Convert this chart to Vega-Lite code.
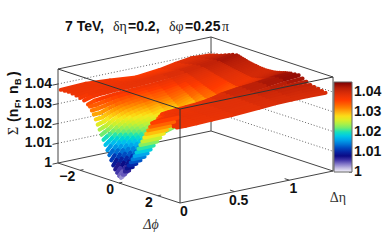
{"$schema":"https://vega.github.io/schema/vega-lite/v6.json","width":382,"height":240,"padding":0,"autosize":{"type":"none"},"background":"white","config":{"view":{"stroke":null}},
"datasets":{
"surface":[
{"p":-3.0,"e":1.36,"z":1.0392},{"p":-3.0,"e":1.2,"z":1.0396},{"p":-3.0,"e":1.05,"z":1.0385},{"p":-3.0,"e":0.9,"z":1.037},{"p":-3.0,"e":0.69,"z":1.0358},{"p":-3.0,"e":0.45,"z":1.037},{"p":-3.0,"e":0.23,"z":1.0379},{"p":-3.0,"e":0,"z":1.0375},
{"p":-2.8,"e":1.36,"z":1.0398},{"p":-2.8,"e":1.2,"z":1.0398},{"p":-2.8,"e":1.05,"z":1.0388},{"p":-2.8,"e":0.9,"z":1.0373},{"p":-2.8,"e":0.69,"z":1.0362},{"p":-2.8,"e":0.45,"z":1.0371},{"p":-2.8,"e":0.23,"z":1.0379},{"p":-2.8,"e":0,"z":1.0377},
{"p":-2.6,"e":1.36,"z":1.0404},{"p":-2.6,"e":1.2,"z":1.0402},{"p":-2.6,"e":1.05,"z":1.0391},{"p":-2.6,"e":0.9,"z":1.0378},{"p":-2.6,"e":0.69,"z":1.0368},{"p":-2.6,"e":0.45,"z":1.0374},{"p":-2.6,"e":0.23,"z":1.0379},{"p":-2.6,"e":0,"z":1.0378},
{"p":-2.4,"e":1.36,"z":1.041},{"p":-2.4,"e":1.2,"z":1.0407},{"p":-2.4,"e":1.05,"z":1.0396},{"p":-2.4,"e":0.9,"z":1.0383},{"p":-2.4,"e":0.69,"z":1.0375},{"p":-2.4,"e":0.45,"z":1.0377},{"p":-2.4,"e":0.23,"z":1.0379},{"p":-2.4,"e":0,"z":1.0376},
{"p":-2.2,"e":1.36,"z":1.0418},{"p":-2.2,"e":1.2,"z":1.041},{"p":-2.2,"e":1.05,"z":1.04},{"p":-2.2,"e":0.9,"z":1.0388},{"p":-2.2,"e":0.69,"z":1.038},{"p":-2.2,"e":0.45,"z":1.038},{"p":-2.2,"e":0.23,"z":1.0379},{"p":-2.2,"e":0,"z":1.0372},
{"p":-2.0,"e":1.36,"z":1.0426},{"p":-2.0,"e":1.2,"z":1.0414},{"p":-2.0,"e":1.05,"z":1.0405},{"p":-2.0,"e":0.9,"z":1.0396},{"p":-2.0,"e":0.75,"z":1.039},{"p":-2.0,"e":0.62,"z":1.0386},{"p":-2.0,"e":0.5,"z":1.0383},{"p":-2.0,"e":0.4,"z":1.0381},{"p":-2.0,"e":0.32,"z":1.038},{"p":-2.0,"e":0.24,"z":1.0379},{"p":-2.0,"e":0.18,"z":1.0378},{"p":-2.0,"e":0.12,"z":1.0377},{"p":-2.0,"e":0.06,"z":1.0374},{"p":-2.0,"e":0,"z":1.0366},
{"p":-1.8,"e":1.36,"z":1.0434},{"p":-1.8,"e":1.2,"z":1.0418},{"p":-1.8,"e":1.05,"z":1.0407},{"p":-1.8,"e":0.9,"z":1.0396},{"p":-1.8,"e":0.75,"z":1.039},{"p":-1.8,"e":0.62,"z":1.0386},{"p":-1.8,"e":0.5,"z":1.0383},{"p":-1.8,"e":0.4,"z":1.0381},{"p":-1.8,"e":0.32,"z":1.038},{"p":-1.8,"e":0.24,"z":1.0378},{"p":-1.8,"e":0.18,"z":1.0376},{"p":-1.8,"e":0.12,"z":1.0374},{"p":-1.8,"e":0.06,"z":1.037},{"p":-1.8,"e":0,"z":1.036},
{"p":-1.6,"e":1.36,"z":1.0438},{"p":-1.6,"e":1.2,"z":1.0418},{"p":-1.6,"e":1.05,"z":1.0405},{"p":-1.6,"e":0.9,"z":1.0392},{"p":-1.6,"e":0.75,"z":1.0384},{"p":-1.6,"e":0.62,"z":1.0378},{"p":-1.6,"e":0.5,"z":1.0375},{"p":-1.6,"e":0.4,"z":1.0372},{"p":-1.6,"e":0.32,"z":1.037},{"p":-1.6,"e":0.24,"z":1.0368},{"p":-1.6,"e":0.18,"z":1.0365},{"p":-1.6,"e":0.12,"z":1.0362},{"p":-1.6,"e":0.06,"z":1.0358},{"p":-1.6,"e":0,"z":1.0346},
{"p":-1.5,"e":1.36,"z":1.0436},{"p":-1.5,"e":1.2,"z":1.0415},{"p":-1.5,"e":1.05,"z":1.0403},{"p":-1.5,"e":0.9,"z":1.0388},{"p":-1.5,"e":0.75,"z":1.0378},{"p":-1.5,"e":0.62,"z":1.0371},{"p":-1.5,"e":0.5,"z":1.0366},{"p":-1.5,"e":0.4,"z":1.0363},{"p":-1.5,"e":0.32,"z":1.036},{"p":-1.5,"e":0.24,"z":1.0357},{"p":-1.5,"e":0.18,"z":1.0353},{"p":-1.5,"e":0.12,"z":1.0347},{"p":-1.5,"e":0.06,"z":1.0341},{"p":-1.5,"e":0,"z":1.0339},
{"p":-1.4,"e":1.36,"z":1.0433},{"p":-1.4,"e":1.2,"z":1.0413},{"p":-1.4,"e":1.05,"z":1.04},{"p":-1.4,"e":0.9,"z":1.0384},{"p":-1.4,"e":0.75,"z":1.0372},{"p":-1.4,"e":0.62,"z":1.0363},{"p":-1.4,"e":0.5,"z":1.0358},{"p":-1.4,"e":0.4,"z":1.0353},{"p":-1.4,"e":0.32,"z":1.035},{"p":-1.4,"e":0.24,"z":1.0346},{"p":-1.4,"e":0.18,"z":1.034},{"p":-1.4,"e":0.12,"z":1.0332},{"p":-1.4,"e":0.06,"z":1.0326},{"p":-1.4,"e":0,"z":1.0322},
{"p":-1.3,"e":1.36,"z":1.043},{"p":-1.3,"e":1.2,"z":1.0411},{"p":-1.3,"e":1.05,"z":1.0397},{"p":-1.3,"e":0.9,"z":1.0381},{"p":-1.3,"e":0.75,"z":1.0366},{"p":-1.3,"e":0.62,"z":1.0355},{"p":-1.3,"e":0.5,"z":1.035},{"p":-1.3,"e":0.4,"z":1.0345},{"p":-1.3,"e":0.32,"z":1.034},{"p":-1.3,"e":0.24,"z":1.0335},{"p":-1.3,"e":0.18,"z":1.0327},{"p":-1.3,"e":0.12,"z":1.0318},{"p":-1.3,"e":0.06,"z":1.0306},{"p":-1.3,"e":0,"z":1.0305},
{"p":-1.2,"e":1.36,"z":1.0428},{"p":-1.2,"e":1.2,"z":1.0409},{"p":-1.2,"e":1.05,"z":1.0394},{"p":-1.2,"e":0.9,"z":1.0377},{"p":-1.2,"e":0.82,"z":1.0368},{"p":-1.2,"e":0.75,"z":1.0359},{"p":-1.2,"e":0.62,"z":1.0347},{"p":-1.2,"e":0.5,"z":1.0341},{"p":-1.2,"e":0.4,"z":1.0335},{"p":-1.2,"e":0.36,"z":1.0333},{"p":-1.2,"e":0.32,"z":1.033},{"p":-1.2,"e":0.28,"z":1.0327},{"p":-1.2,"e":0.24,"z":1.0323},{"p":-1.2,"e":0.21,"z":1.0319},{"p":-1.2,"e":0.18,"z":1.0314},{"p":-1.2,"e":0.15,"z":1.0308},{"p":-1.2,"e":0.12,"z":1.0302},{"p":-1.2,"e":0.09,"z":1.0295},{"p":-1.2,"e":0.06,"z":1.0287},{"p":-1.2,"e":0.03,"z":1.0285},{"p":-1.2,"e":0,"z":1.0283},
{"p":-1.1,"e":1.36,"z":1.0425},{"p":-1.1,"e":1.2,"z":1.0408},{"p":-1.1,"e":1.05,"z":1.0392},{"p":-1.1,"e":0.9,"z":1.0373},{"p":-1.1,"e":0.82,"z":1.0364},{"p":-1.1,"e":0.75,"z":1.0354},{"p":-1.1,"e":0.62,"z":1.034},{"p":-1.1,"e":0.5,"z":1.0333},{"p":-1.1,"e":0.4,"z":1.0327},{"p":-1.1,"e":0.36,"z":1.0324},{"p":-1.1,"e":0.32,"z":1.0321},{"p":-1.1,"e":0.28,"z":1.0317},{"p":-1.1,"e":0.24,"z":1.0313},{"p":-1.1,"e":0.21,"z":1.0308},{"p":-1.1,"e":0.18,"z":1.0302},{"p":-1.1,"e":0.15,"z":1.0295},{"p":-1.1,"e":0.12,"z":1.0288},{"p":-1.1,"e":0.09,"z":1.0279},{"p":-1.1,"e":0.06,"z":1.027},{"p":-1.1,"e":0.03,"z":1.0265},{"p":-1.1,"e":0,"z":1.026},
{"p":-1.0,"e":1.36,"z":1.0422},{"p":-1.0,"e":1.2,"z":1.0405},{"p":-1.0,"e":1.05,"z":1.0388},{"p":-1.0,"e":0.9,"z":1.0369},{"p":-1.0,"e":0.82,"z":1.0358},{"p":-1.0,"e":0.75,"z":1.0347},{"p":-1.0,"e":0.62,"z":1.0331},{"p":-1.0,"e":0.5,"z":1.0324},{"p":-1.0,"e":0.4,"z":1.0317},{"p":-1.0,"e":0.36,"z":1.0314},{"p":-1.0,"e":0.32,"z":1.031},{"p":-1.0,"e":0.28,"z":1.0306},{"p":-1.0,"e":0.24,"z":1.0301},{"p":-1.0,"e":0.21,"z":1.0295},{"p":-1.0,"e":0.18,"z":1.0288},{"p":-1.0,"e":0.15,"z":1.028},{"p":-1.0,"e":0.12,"z":1.0272},{"p":-1.0,"e":0.09,"z":1.0262},{"p":-1.0,"e":0.06,"z":1.0251},{"p":-1.0,"e":0.03,"z":1.0245},{"p":-1.0,"e":0,"z":1.0238},
{"p":-0.9,"e":1.36,"z":1.042},{"p":-0.9,"e":1.2,"z":1.0403},{"p":-0.9,"e":1.05,"z":1.0386},{"p":-0.9,"e":0.9,"z":1.0365},{"p":-0.9,"e":0.82,"z":1.0353},{"p":-0.9,"e":0.75,"z":1.0341},{"p":-0.9,"e":0.62,"z":1.0324},{"p":-0.9,"e":0.5,"z":1.0316},{"p":-0.9,"e":0.4,"z":1.0308},{"p":-0.9,"e":0.36,"z":1.0304},{"p":-0.9,"e":0.32,"z":1.03},{"p":-0.9,"e":0.28,"z":1.0295},{"p":-0.9,"e":0.24,"z":1.029},{"p":-0.9,"e":0.21,"z":1.0283},{"p":-0.9,"e":0.18,"z":1.0276},{"p":-0.9,"e":0.15,"z":1.0267},{"p":-0.9,"e":0.12,"z":1.0257},{"p":-0.9,"e":0.09,"z":1.0246},{"p":-0.9,"e":0.06,"z":1.0234},{"p":-0.9,"e":0.03,"z":1.0225},{"p":-0.9,"e":0,"z":1.0215},
{"p":-0.8,"e":1.36,"z":1.0418},{"p":-0.8,"e":1.2,"z":1.0401},{"p":-0.8,"e":1.05,"z":1.0384},{"p":-0.8,"e":0.9,"z":1.0361},{"p":-0.8,"e":0.82,"z":1.0348},{"p":-0.8,"e":0.75,"z":1.0335},{"p":-0.8,"e":0.62,"z":1.0316},{"p":-0.8,"e":0.5,"z":1.0308},{"p":-0.8,"e":0.4,"z":1.0298},{"p":-0.8,"e":0.36,"z":1.0294},{"p":-0.8,"e":0.32,"z":1.029},{"p":-0.8,"e":0.28,"z":1.0285},{"p":-0.8,"e":0.24,"z":1.0279},{"p":-0.8,"e":0.21,"z":1.0271},{"p":-0.8,"e":0.18,"z":1.0263},{"p":-0.8,"e":0.15,"z":1.0253},{"p":-0.8,"e":0.12,"z":1.0242},{"p":-0.8,"e":0.09,"z":1.0229},{"p":-0.8,"e":0.06,"z":1.0216},{"p":-0.8,"e":0.03,"z":1.0205},{"p":-0.8,"e":0,"z":1.0193},
{"p":-0.7,"e":1.36,"z":1.0416},{"p":-0.7,"e":1.2,"z":1.04},{"p":-0.7,"e":1.05,"z":1.0381},{"p":-0.7,"e":0.9,"z":1.0357},{"p":-0.7,"e":0.82,"z":1.0343},{"p":-0.7,"e":0.75,"z":1.0329},{"p":-0.7,"e":0.62,"z":1.0308},{"p":-0.7,"e":0.5,"z":1.03},{"p":-0.7,"e":0.4,"z":1.0289},{"p":-0.7,"e":0.36,"z":1.0285},{"p":-0.7,"e":0.32,"z":1.028},{"p":-0.7,"e":0.28,"z":1.0274},{"p":-0.7,"e":0.24,"z":1.0268},{"p":-0.7,"e":0.21,"z":1.0259},{"p":-0.7,"e":0.18,"z":1.025},{"p":-0.7,"e":0.15,"z":1.0239},{"p":-0.7,"e":0.12,"z":1.0227},{"p":-0.7,"e":0.09,"z":1.0213},{"p":-0.7,"e":0.06,"z":1.0198},{"p":-0.7,"e":0.03,"z":1.0184},{"p":-0.7,"e":0,"z":1.017},
{"p":-0.6,"e":1.36,"z":1.0415},{"p":-0.6,"e":1.2,"z":1.0398},{"p":-0.6,"e":1.05,"z":1.0379},{"p":-0.6,"e":0.9,"z":1.0353},{"p":-0.6,"e":0.82,"z":1.0338},{"p":-0.6,"e":0.75,"z":1.0323},{"p":-0.6,"e":0.62,"z":1.0301},{"p":-0.6,"e":0.5,"z":1.0291},{"p":-0.6,"e":0.4,"z":1.028},{"p":-0.6,"e":0.36,"z":1.0275},{"p":-0.6,"e":0.32,"z":1.027},{"p":-0.6,"e":0.28,"z":1.0264},{"p":-0.6,"e":0.24,"z":1.0257},{"p":-0.6,"e":0.21,"z":1.0248},{"p":-0.6,"e":0.18,"z":1.0238},{"p":-0.6,"e":0.15,"z":1.0225},{"p":-0.6,"e":0.12,"z":1.0212},{"p":-0.6,"e":0.09,"z":1.0197},{"p":-0.6,"e":0.06,"z":1.0181},{"p":-0.6,"e":0.03,"z":1.0164},{"p":-0.6,"e":0,"z":1.0147},
{"p":-0.5,"e":1.36,"z":1.0413},{"p":-0.5,"e":1.2,"z":1.0396},{"p":-0.5,"e":1.05,"z":1.0376},{"p":-0.5,"e":0.9,"z":1.0349},{"p":-0.5,"e":0.82,"z":1.0333},{"p":-0.5,"e":0.75,"z":1.0317},{"p":-0.5,"e":0.62,"z":1.0293},{"p":-0.5,"e":0.5,"z":1.0283},{"p":-0.5,"e":0.4,"z":1.0271},{"p":-0.5,"e":0.36,"z":1.0266},{"p":-0.5,"e":0.32,"z":1.026},{"p":-0.5,"e":0.28,"z":1.0253},{"p":-0.5,"e":0.24,"z":1.0246},{"p":-0.5,"e":0.21,"z":1.0236},{"p":-0.5,"e":0.18,"z":1.0225},{"p":-0.5,"e":0.15,"z":1.0211},{"p":-0.5,"e":0.12,"z":1.0197},{"p":-0.5,"e":0.09,"z":1.018},{"p":-0.5,"e":0.06,"z":1.0163},{"p":-0.5,"e":0.03,"z":1.0144},{"p":-0.5,"e":0,"z":1.0125},
{"p":-0.4,"e":1.36,"z":1.0412},{"p":-0.4,"e":1.2,"z":1.0395},{"p":-0.4,"e":1.05,"z":1.0374},{"p":-0.4,"e":0.9,"z":1.0346},{"p":-0.4,"e":0.82,"z":1.0329},{"p":-0.4,"e":0.75,"z":1.0311},{"p":-0.4,"e":0.62,"z":1.0285},{"p":-0.4,"e":0.5,"z":1.0275},{"p":-0.4,"e":0.4,"z":1.0262},{"p":-0.4,"e":0.36,"z":1.0256},{"p":-0.4,"e":0.32,"z":1.025},{"p":-0.4,"e":0.28,"z":1.0243},{"p":-0.4,"e":0.24,"z":1.0235},{"p":-0.4,"e":0.21,"z":1.0224},{"p":-0.4,"e":0.18,"z":1.0212},{"p":-0.4,"e":0.15,"z":1.0198},{"p":-0.4,"e":0.12,"z":1.0183},{"p":-0.4,"e":0.09,"z":1.0165},{"p":-0.4,"e":0.06,"z":1.0146},{"p":-0.4,"e":0.03,"z":1.0124},{"p":-0.4,"e":0,"z":1.0102},
{"p":-0.3,"e":1.36,"z":1.0411},{"p":-0.3,"e":1.2,"z":1.0393},{"p":-0.3,"e":1.05,"z":1.0371},{"p":-0.3,"e":0.9,"z":1.0342},{"p":-0.3,"e":0.82,"z":1.0323},{"p":-0.3,"e":0.75,"z":1.0304},{"p":-0.3,"e":0.62,"z":1.0277},{"p":-0.3,"e":0.5,"z":1.0266},{"p":-0.3,"e":0.4,"z":1.0253},{"p":-0.3,"e":0.36,"z":1.0247},{"p":-0.3,"e":0.32,"z":1.024},{"p":-0.3,"e":0.28,"z":1.0232},{"p":-0.3,"e":0.24,"z":1.0223},{"p":-0.3,"e":0.21,"z":1.0211},{"p":-0.3,"e":0.18,"z":1.0199},{"p":-0.3,"e":0.15,"z":1.0183},{"p":-0.3,"e":0.12,"z":1.0167},{"p":-0.3,"e":0.09,"z":1.0147},{"p":-0.3,"e":0.06,"z":1.0127},{"p":-0.3,"e":0.03,"z":1.0103},{"p":-0.3,"e":0,"z":1.0079},
{"p":-0.2,"e":1.36,"z":1.041},{"p":-0.2,"e":1.2,"z":1.0391},{"p":-0.2,"e":1.05,"z":1.0369},{"p":-0.2,"e":0.9,"z":1.0338},{"p":-0.2,"e":0.82,"z":1.0319},{"p":-0.2,"e":0.75,"z":1.0299},{"p":-0.2,"e":0.62,"z":1.027},{"p":-0.2,"e":0.5,"z":1.0258},{"p":-0.2,"e":0.4,"z":1.0244},{"p":-0.2,"e":0.36,"z":1.0238},{"p":-0.2,"e":0.32,"z":1.0231},{"p":-0.2,"e":0.28,"z":1.0222},{"p":-0.2,"e":0.24,"z":1.0213},{"p":-0.2,"e":0.21,"z":1.02},{"p":-0.2,"e":0.18,"z":1.0187},{"p":-0.2,"e":0.15,"z":1.017},{"p":-0.2,"e":0.12,"z":1.0153},{"p":-0.2,"e":0.09,"z":1.0132},{"p":-0.2,"e":0.06,"z":1.011},{"p":-0.2,"e":0.03,"z":1.0086},{"p":-0.2,"e":0,"z":1.0062},
{"p":-0.1,"e":1.36,"z":1.041},{"p":-0.1,"e":1.2,"z":1.039},{"p":-0.1,"e":1.05,"z":1.0366},{"p":-0.1,"e":0.9,"z":1.0334},{"p":-0.1,"e":0.82,"z":1.0313},{"p":-0.1,"e":0.75,"z":1.0292},{"p":-0.1,"e":0.62,"z":1.0262},{"p":-0.1,"e":0.5,"z":1.025},{"p":-0.1,"e":0.4,"z":1.0234},{"p":-0.1,"e":0.36,"z":1.0227},{"p":-0.1,"e":0.32,"z":1.022},{"p":-0.1,"e":0.28,"z":1.0211},{"p":-0.1,"e":0.24,"z":1.0201},{"p":-0.1,"e":0.21,"z":1.0188},{"p":-0.1,"e":0.18,"z":1.0174},{"p":-0.1,"e":0.15,"z":1.0156},{"p":-0.1,"e":0.12,"z":1.0137},{"p":-0.1,"e":0.09,"z":1.0115},{"p":-0.1,"e":0.06,"z":1.0092},{"p":-0.1,"e":0.03,"z":1.007},{"p":-0.1,"e":0,"z":1.0048},
{"p":0,"e":1.36,"z":1.041},{"p":0,"e":1.2,"z":1.0389},{"p":0,"e":1.05,"z":1.0364},{"p":0,"e":0.9,"z":1.033},{"p":0,"e":0.82,"z":1.0308},{"p":0,"e":0.75,"z":1.0286},{"p":0,"e":0.62,"z":1.0254},{"p":0,"e":0.5,"z":1.0241},{"p":0,"e":0.4,"z":1.0225},{"p":0,"e":0.36,"z":1.0218},{"p":0,"e":0.32,"z":1.021},{"p":0,"e":0.28,"z":1.02},{"p":0,"e":0.24,"z":1.019},{"p":0,"e":0.21,"z":1.0176},{"p":0,"e":0.18,"z":1.0161},{"p":0,"e":0.15,"z":1.0142},{"p":0,"e":0.12,"z":1.0122},{"p":0,"e":0.09,"z":1.0098},{"p":0,"e":0.06,"z":1.0074},{"p":0,"e":0.03,"z":1.0055},{"p":0,"e":0,"z":1.0036},
{"p":0.1,"e":1.36,"z":1.0411},{"p":0.1,"e":1.2,"z":1.0388},{"p":0.1,"e":1.05,"z":1.0362},{"p":0.1,"e":0.9,"z":1.0326},{"p":0.1,"e":0.82,"z":1.0303},{"p":0.1,"e":0.75,"z":1.028},{"p":0.1,"e":0.62,"z":1.0246},{"p":0.1,"e":0.5,"z":1.0233},{"p":0.1,"e":0.4,"z":1.0216},{"p":0.1,"e":0.36,"z":1.0208},{"p":0.1,"e":0.32,"z":1.02},{"p":0.1,"e":0.28,"z":1.019},{"p":0.1,"e":0.24,"z":1.0179},{"p":0.1,"e":0.21,"z":1.0164},{"p":0.1,"e":0.18,"z":1.0148},{"p":0.1,"e":0.15,"z":1.0128},{"p":0.1,"e":0.12,"z":1.0107},{"p":0.1,"e":0.09,"z":1.0082},{"p":0.1,"e":0.06,"z":1.0056},{"p":0.1,"e":0.03,"z":1.0043},{"p":0.1,"e":0,"z":1.003},
{"p":0.2,"e":1.36,"z":1.0412},{"p":0.2,"e":1.2,"z":1.0391},{"p":0.2,"e":1.05,"z":1.0366},{"p":0.2,"e":0.9,"z":1.0332},{"p":0.2,"e":0.75,"z":1.029},{"p":0.2,"e":0.62,"z":1.0259},{"p":0.2,"e":0.5,"z":1.0246},{"p":0.2,"e":0.4,"z":1.0231},{"p":0.2,"e":0.32,"z":1.0216},{"p":0.2,"e":0.24,"z":1.0197},{"p":0.2,"e":0.18,"z":1.0169},
{"p":0.3,"e":1.36,"z":1.0413},{"p":0.3,"e":1.2,"z":1.0393},{"p":0.3,"e":1.05,"z":1.037},{"p":0.3,"e":0.9,"z":1.0338},{"p":0.3,"e":0.75,"z":1.03},{"p":0.3,"e":0.62,"z":1.0272},{"p":0.3,"e":0.5,"z":1.026},{"p":0.3,"e":0.4,"z":1.0246},{"p":0.3,"e":0.32,"z":1.0232},{"p":0.3,"e":0.24,"z":1.0215},{"p":0.3,"e":0.18,"z":1.019},
{"p":0.4,"e":1.36,"z":1.0415},{"p":0.4,"e":1.2,"z":1.0395},{"p":0.4,"e":1.05,"z":1.0374},{"p":0.4,"e":0.9,"z":1.0345},{"p":0.4,"e":0.75,"z":1.031},{"p":0.4,"e":0.62,"z":1.0284},{"p":0.4,"e":0.5,"z":1.0273},{"p":0.4,"e":0.4,"z":1.0261},{"p":0.4,"e":0.32,"z":1.0249},{"p":0.4,"e":0.24,"z":1.0233},{"p":0.4,"e":0.18,"z":1.021},
{"p":0.5,"e":1.36,"z":1.0417},{"p":0.5,"e":1.2,"z":1.0398},{"p":0.5,"e":1.05,"z":1.0378},{"p":0.5,"e":0.9,"z":1.0351},{"p":0.5,"e":0.75,"z":1.032},{"p":0.5,"e":0.62,"z":1.0296},{"p":0.5,"e":0.5,"z":1.0286},{"p":0.5,"e":0.4,"z":1.0275},{"p":0.5,"e":0.32,"z":1.0265},{"p":0.5,"e":0.24,"z":1.0251},{"p":0.5,"e":0.18,"z":1.023},
{"p":0.6,"e":1.36,"z":1.042},{"p":0.6,"e":1.2,"z":1.0401},{"p":0.6,"e":1.05,"z":1.0382},{"p":0.6,"e":0.9,"z":1.0357},{"p":0.6,"e":0.75,"z":1.033},{"p":0.6,"e":0.62,"z":1.0309},{"p":0.6,"e":0.5,"z":1.03},{"p":0.6,"e":0.4,"z":1.029},{"p":0.6,"e":0.32,"z":1.0281},{"p":0.6,"e":0.24,"z":1.0269},{"p":0.6,"e":0.18,"z":1.0251},
{"p":0.7,"e":1.36,"z":1.0422},{"p":0.7,"e":1.2,"z":1.0404},{"p":0.7,"e":1.05,"z":1.0386},{"p":0.7,"e":0.9,"z":1.0368},{"p":0.7,"e":0.75,"z":1.034},{"p":0.7,"e":0.62,"z":1.0322},{"p":0.7,"e":0.5,"z":1.0314},{"p":0.7,"e":0.4,"z":1.0306},{"p":0.7,"e":0.32,"z":1.0298},{"p":0.7,"e":0.24,"z":1.0288},{"p":0.7,"e":0.18,"z":1.0273},
{"p":0.8,"e":1.36,"z":1.0425},{"p":0.8,"e":1.2,"z":1.0407},{"p":0.8,"e":1.05,"z":1.0391},{"p":0.8,"e":0.9,"z":1.0381},{"p":0.8,"e":0.75,"z":1.035},{"p":0.8,"e":0.62,"z":1.0336},{"p":0.8,"e":0.5,"z":1.0329},{"p":0.8,"e":0.4,"z":1.0322},{"p":0.8,"e":0.32,"z":1.0315},{"p":0.8,"e":0.24,"z":1.0307},{"p":0.8,"e":0.18,"z":1.0295},
{"p":0.9,"e":1.36,"z":1.0428},{"p":0.9,"e":1.2,"z":1.0413},{"p":0.9,"e":1.05,"z":1.04},{"p":0.9,"e":0.9,"z":1.0393},{"p":0.9,"e":0.75,"z":1.0372},{"p":0.9,"e":0.62,"z":1.0355},{"p":0.9,"e":0.5,"z":1.0345},{"p":0.9,"e":0.4,"z":1.0338},{"p":0.9,"e":0.32,"z":1.0332},{"p":0.9,"e":0.24,"z":1.0325},{"p":0.9,"e":0.18,"z":1.0316},
{"p":1.0,"e":1.36,"z":1.043},{"p":1.0,"e":1.2,"z":1.042},{"p":1.0,"e":1.05,"z":1.041},{"p":1.0,"e":0.9,"z":1.0403},{"p":1.0,"e":0.75,"z":1.0392},{"p":1.0,"e":0.62,"z":1.0372},{"p":1.0,"e":0.5,"z":1.036},{"p":1.0,"e":0.4,"z":1.0354},{"p":1.0,"e":0.32,"z":1.035},{"p":1.0,"e":0.24,"z":1.0344},{"p":1.0,"e":0.18,"z":1.0338},
{"p":1.1,"e":1.36,"z":1.0432},{"p":1.1,"e":1.2,"z":1.0425},{"p":1.1,"e":1.05,"z":1.0415},{"p":1.1,"e":0.9,"z":1.0408},{"p":1.1,"e":0.75,"z":1.0397},{"p":1.1,"e":0.62,"z":1.0381},{"p":1.1,"e":0.5,"z":1.037},{"p":1.1,"e":0.4,"z":1.0365},{"p":1.1,"e":0.32,"z":1.0362},{"p":1.1,"e":0.24,"z":1.0357},{"p":1.1,"e":0.18,"z":1.0352},
{"p":1.2,"e":1.36,"z":1.0435},{"p":1.2,"e":1.2,"z":1.043},{"p":1.2,"e":1.05,"z":1.042},{"p":1.2,"e":0.9,"z":1.0413},{"p":1.2,"e":0.75,"z":1.04},{"p":1.2,"e":0.62,"z":1.0388},{"p":1.2,"e":0.5,"z":1.038},{"p":1.2,"e":0.4,"z":1.0376},{"p":1.2,"e":0.32,"z":1.0373},{"p":1.2,"e":0.24,"z":1.037},{"p":1.2,"e":0.18,"z":1.0366},
{"p":1.4,"e":1.36,"z":1.0438},{"p":1.4,"e":1.2,"z":1.0432},{"p":1.4,"e":1.05,"z":1.0422},{"p":1.4,"e":0.9,"z":1.0412},{"p":1.4,"e":0.75,"z":1.04},{"p":1.4,"e":0.62,"z":1.039},{"p":1.4,"e":0.5,"z":1.0382},{"p":1.4,"e":0.4,"z":1.038},{"p":1.4,"e":0.32,"z":1.0378},{"p":1.4,"e":0.24,"z":1.0376},{"p":1.4,"e":0.18,"z":1.0374},
{"p":1.6,"e":1.36,"z":1.044},{"p":1.6,"e":1.2,"z":1.0432},{"p":1.6,"e":1.05,"z":1.0422},{"p":1.6,"e":0.9,"z":1.041},{"p":1.6,"e":0.75,"z":1.0398},{"p":1.6,"e":0.62,"z":1.039},{"p":1.6,"e":0.5,"z":1.0383},{"p":1.6,"e":0.4,"z":1.0381},{"p":1.6,"e":0.32,"z":1.038},{"p":1.6,"e":0.24,"z":1.0378},{"p":1.6,"e":0.18,"z":1.0376},
{"p":1.8,"e":1.36,"z":1.043},{"p":1.8,"e":1.2,"z":1.0425},{"p":1.8,"e":1.05,"z":1.0415},{"p":1.8,"e":0.9,"z":1.0405},{"p":1.8,"e":0.75,"z":1.0396},{"p":1.8,"e":0.5,"z":1.0385},{"p":1.8,"e":0.32,"z":1.0382},{"p":1.8,"e":0.18,"z":1.0378},{"p":1.8,"e":0.08,"z":1.0374},{"p":1.8,"e":0,"z":1.0365},
{"p":2.0,"e":1.36,"z":1.042},{"p":2.0,"e":1.2,"z":1.0418},{"p":2.0,"e":1.05,"z":1.041},{"p":2.0,"e":0.9,"z":1.0403},{"p":2.0,"e":0.75,"z":1.0395},{"p":2.0,"e":0.5,"z":1.0385},{"p":2.0,"e":0.32,"z":1.0382},{"p":2.0,"e":0.18,"z":1.038},{"p":2.0,"e":0.08,"z":1.0378},{"p":2.0,"e":0,"z":1.0375},
{"p":2.2,"e":1.36,"z":1.041},{"p":2.2,"e":1.2,"z":1.0412},{"p":2.2,"e":1.05,"z":1.0406},{"p":2.2,"e":0.9,"z":1.04},{"p":2.2,"e":0.75,"z":1.0394},{"p":2.2,"e":0.5,"z":1.0385},{"p":2.2,"e":0.32,"z":1.0383},{"p":2.2,"e":0.18,"z":1.0382},{"p":2.2,"e":0.08,"z":1.0382},{"p":2.2,"e":0,"z":1.0382},
{"p":2.4,"e":1.36,"z":1.0406},{"p":2.4,"e":1.2,"z":1.0408},{"p":2.4,"e":1.05,"z":1.0404},{"p":2.4,"e":0.9,"z":1.0399},{"p":2.4,"e":0.75,"z":1.0393},{"p":2.4,"e":0.5,"z":1.0385},{"p":2.4,"e":0.32,"z":1.0383},{"p":2.4,"e":0.18,"z":1.0382},{"p":2.4,"e":0.08,"z":1.0381},{"p":2.4,"e":0,"z":1.0381},
{"p":2.6,"e":1.36,"z":1.0403},{"p":2.6,"e":1.2,"z":1.0404},{"p":2.6,"e":1.05,"z":1.04},{"p":2.6,"e":0.9,"z":1.0397},{"p":2.6,"e":0.75,"z":1.0392},{"p":2.6,"e":0.5,"z":1.0384},{"p":2.6,"e":0.32,"z":1.0382},{"p":2.6,"e":0.18,"z":1.038},{"p":2.6,"e":0.08,"z":1.0379},{"p":2.6,"e":0,"z":1.0379},
{"p":2.8,"e":1.36,"z":1.0399},{"p":2.8,"e":1.2,"z":1.04},{"p":2.8,"e":1.05,"z":1.0398},{"p":2.8,"e":0.9,"z":1.0396},{"p":2.8,"e":0.75,"z":1.0391},{"p":2.8,"e":0.5,"z":1.0383},{"p":2.8,"e":0.32,"z":1.0381},{"p":2.8,"e":0.18,"z":1.0379},{"p":2.8,"e":0.08,"z":1.0378},{"p":2.8,"e":0,"z":1.0377},
{"p":2.98,"e":1.36,"z":1.0395},{"p":2.98,"e":1.2,"z":1.0397},{"p":2.98,"e":1.05,"z":1.0397},{"p":2.98,"e":0.9,"z":1.0396},{"p":2.98,"e":0.75,"z":1.039},{"p":2.98,"e":0.5,"z":1.0382},{"p":2.98,"e":0.32,"z":1.038},{"p":2.98,"e":0.18,"z":1.0378},{"p":2.98,"e":0.08,"z":1.0377},{"p":2.98,"e":0,"z":1.0377}
],
"arm":[
{"p":0.12,"e":0.01,"z":1.0033},{"p":0.12,"e":0,"z":1.0033},{"p":0.2,"e":0.02,"z":1.0048},{"p":0.2,"e":0,"z":1.0048},{"p":0.3,"e":0.04,"z":1.0068},{"p":0.3,"e":0,"z":1.0068},{"p":0.4,"e":0.055,"z":1.0087},{"p":0.4,"e":0,"z":1.0087},{"p":0.5,"e":0.07,"z":1.0105},{"p":0.5,"e":0,"z":1.0105},{"p":0.6,"e":0.09,"z":1.0124},{"p":0.6,"e":0,"z":1.0124},{"p":0.7,"e":0.11,"z":1.0143},{"p":0.7,"e":0,"z":1.0143},{"p":0.8,"e":0.12,"z":1.0162},{"p":0.8,"e":0,"z":1.0162},{"p":0.9,"e":0.13,"z":1.0184},{"p":0.9,"e":0,"z":1.0184},{"p":1.0,"e":0.14,"z":1.0206},{"p":1.0,"e":0,"z":1.0206},{"p":1.1,"e":0.155,"z":1.0228},{"p":1.1,"e":0,"z":1.0228},{"p":1.2,"e":0.165,"z":1.0249},{"p":1.2,"e":0,"z":1.0249},{"p":1.3,"e":0.18,"z":1.0272},{"p":1.3,"e":0,"z":1.0272},{"p":1.4,"e":0.19,"z":1.0293},{"p":1.4,"e":0,"z":1.0293},{"p":1.5,"e":0.2,"z":1.0315},{"p":1.5,"e":0,"z":1.0315},{"p":1.6,"e":0.22,"z":1.0336},{"p":1.6,"e":0,"z":1.0336},{"p":1.7,"e":0.24,"z":1.0358},{"p":1.7,"e":0,"z":1.0358}
],
"box":[
{"p":-3.1416,"e":0,"z":1,"p2":-3.1416,"e2":1.4,"z2":1},{"p":-3.1416,"e":1.4,"z":1,"p2":3.1416,"e2":1.4,"z2":1},{"p":-3.1416,"e":0,"z":1,"p2":-3.1416,"e2":0,"z2":1.0476},{"p":-3.1416,"e":1.4,"z":1,"p2":-3.1416,"e2":1.4,"z2":1.0476},{"p":3.1416,"e":1.4,"z":1,"p2":3.1416,"e2":1.4,"z2":1.0476},{"p":-3.1416,"e":0,"z":1.0476,"p2":-3.1416,"e2":1.4,"z2":1.0476},{"p":-3.1416,"e":1.4,"z":1.0476,"p2":3.1416,"e2":1.4,"z2":1.0476},{"p":-3.1416,"e":0,"z":1,"p2":3.1416,"e2":0,"z2":1},{"p":3.1416,"e":0,"z":1,"p2":3.1416,"e2":1.4,"z2":1},
{"p":-3.1416,"e":0,"z":1.01,"p2":-3.1416,"e2":-0.05,"z2":1.01},{"p":-3.1416,"e":0,"z":1.02,"p2":-3.1416,"e2":-0.05,"z2":1.02},{"p":-3.1416,"e":0,"z":1.03,"p2":-3.1416,"e2":-0.05,"z2":1.03},{"p":-3.1416,"e":0,"z":1.04,"p2":-3.1416,"e2":-0.05,"z2":1.04},{"p":-3.1416,"e":0,"z":1,"p2":-3.1416,"e2":-0.05,"z2":1},
{"p":-2,"e":0,"z":1,"p2":-2,"e2":0.03,"z2":1},{"p":0,"e":0,"z":1,"p2":0,"e2":0.03,"z2":1},{"p":2,"e":0,"z":1,"p2":2,"e2":0.03,"z2":1},{"p":3.1416,"e":0.5,"z":1,"p2":2.9,"e2":0.5,"z2":1},{"p":3.1416,"e":1,"z":1,"p2":2.9,"e2":1,"z2":1}
],
"grid":[
{"p":-3.1416,"e":0,"z":1.01,"p2":-3.1416,"e2":1.4,"z2":1.01},{"p":-3.1416,"e":1.4,"z":1.01,"p2":3.1416,"e2":1.4,"z2":1.01},{"p":-3.1416,"e":0,"z":1.02,"p2":-3.1416,"e2":1.4,"z2":1.02},{"p":-3.1416,"e":1.4,"z":1.02,"p2":3.1416,"e2":1.4,"z2":1.02},{"p":-3.1416,"e":0,"z":1.03,"p2":-3.1416,"e2":1.4,"z2":1.03},{"p":-3.1416,"e":1.4,"z":1.03,"p2":3.1416,"e2":1.4,"z2":1.03},{"p":-3.1416,"e":0,"z":1.04,"p2":-3.1416,"e2":1.4,"z2":1.04},{"p":-3.1416,"e":1.4,"z":1.04,"p2":3.1416,"e2":1.4,"z2":1.04}
],
"front":[
{"p":-3.1416,"e":0,"z":1.0476,"p2":3.1416,"e2":0,"z2":1.0476},{"p":3.1416,"e":0,"z":1.0476,"p2":3.1416,"e2":1.4,"z2":1.0476},{"p":3.1416,"e":0,"z":1,"p2":3.1416,"e2":0,"z2":1.0476}
]
},
"layer":[
{"data":{"name":"grid"},"transform":[{"calculate":"58+(datum.p+3.1416)*19.42+datum.e*109.3","as":"sx"},{"calculate":"163+(datum.p+3.1416)*6.37-datum.e*22.86-(datum.z-1)*1975","as":"sy"},{"calculate":"58+(datum.p2+3.1416)*19.42+datum.e2*109.3","as":"sx2"},{"calculate":"163+(datum.p2+3.1416)*6.37-datum.e2*22.86-(datum.z2-1)*1975","as":"sy2"}],
"mark":{"type":"rule","color":"#666","strokeWidth":1,"strokeDash":[1,2]},
"encoding":{"x":{"field":"sx","type":"quantitative","scale":{"domain":[0,382],"nice":false,"zero":false},"axis":null},"y":{"field":"sy","type":"quantitative","scale":{"domain":[0,240],"reverse":true,"nice":false,"zero":false},"axis":null},"x2":{"field":"sx2"},"y2":{"field":"sy2"}}},
{"data":{"name":"box"},"transform":[{"calculate":"58+(datum.p+3.1416)*19.42+datum.e*109.3","as":"sx"},{"calculate":"163+(datum.p+3.1416)*6.37-datum.e*22.86-(datum.z-1)*1975","as":"sy"},{"calculate":"58+(datum.p2+3.1416)*19.42+datum.e2*109.3","as":"sx2"},{"calculate":"163+(datum.p2+3.1416)*6.37-datum.e2*22.86-(datum.z2-1)*1975","as":"sy2"}],
"mark":{"type":"rule","color":"#444","strokeWidth":1},
"encoding":{"x":{"field":"sx","type":"quantitative"},"y":{"field":"sy","type":"quantitative"},"x2":{"field":"sx2"},"y2":{"field":"sy2"}}},
{"data":{"name":"surface"},"transform":[{"window":[{"op":"lead","field":"e","as":"e2"},{"op":"lead","field":"z","as":"z2"}],"groupby":["p"],"sort":[{"field":"e","order":"ascending"}]},{"filter":"datum.e2!=null"},{"calculate":"(datum.z+datum.z2)/2","as":"zm"},{"calculate":"58+(datum.p+3.1416)*19.42+datum.e*109.3","as":"sx"},{"calculate":"163+(datum.p+3.1416)*6.37-datum.e*22.86-(datum.z-1)*1975","as":"sy"},{"calculate":"58+(datum.p+3.1416)*19.42+datum.e2*109.3","as":"sx2"},{"calculate":"163+(datum.p+3.1416)*6.37-datum.e2*22.86-(datum.z2-1)*1975","as":"sy2"}],
"mark":{"type":"rule","strokeWidth":4,"strokeCap":"round"},
"encoding":{"x":{"field":"sx","type":"quantitative"},"y":{"field":"sy","type":"quantitative"},"x2":{"field":"sx2"},"y2":{"field":"sy2"},
"color":{"field":"zm","type":"quantitative","scale":{"domain":[1,1.003,1.0055,1.008,1.011,1.014,1.017,1.0195,1.022,1.025,1.0275,1.03,1.033,1.036,1.039,1.042,1.045],"range":["#f4f2fa","#a79fd6","#4a3eb0","#0b0a85","#0030b0","#0078d8","#00b8f0","#20dcc8","#70ec70","#c8f030","#f8e820","#ffb010","#ff6a00","#ff3a00","#e03008","#b81e08","#7a0000"],"clamp":true},
"legend":{"title":null,"orient":"none","legendX":334,"legendY":82,"gradientLength":90,"gradientThickness":18,"values":[1,1.01,1.02,1.03,1.04],"labelOpacity":0,"labelFontSize":1,"labelOverlap":false,"gradientStrokeColor":"#666","gradientStrokeWidth":1}}}},
{"data":{"name":"arm"},"transform":[{"window":[{"op":"lead","field":"e","as":"e2"},{"op":"lead","field":"z","as":"z2"}],"groupby":["p"],"sort":[{"field":"e","order":"ascending"}]},{"filter":"datum.e2!=null"},{"calculate":"(datum.z+datum.z2)/2","as":"zm"},{"calculate":"58+(datum.p+3.1416)*19.42+datum.e*109.3","as":"sx"},{"calculate":"163+(datum.p+3.1416)*6.37-datum.e*22.86-(datum.z-1)*1975","as":"sy"},{"calculate":"58+(datum.p+3.1416)*19.42+datum.e2*109.3","as":"sx2"},{"calculate":"163+(datum.p+3.1416)*6.37-datum.e2*22.86-(datum.z2-1)*1975","as":"sy2"}],
"mark":{"type":"rule","strokeWidth":4,"strokeCap":"round"},
"encoding":{"x":{"field":"sx","type":"quantitative"},"y":{"field":"sy","type":"quantitative"},"x2":{"field":"sx2"},"y2":{"field":"sy2"},"color":{"field":"zm","type":"quantitative"}}},
{"data":{"name":"front"},"transform":[{"calculate":"58+(datum.p+3.1416)*19.42+datum.e*109.3","as":"sx"},{"calculate":"163+(datum.p+3.1416)*6.37-datum.e*22.86-(datum.z-1)*1975","as":"sy"},{"calculate":"58+(datum.p2+3.1416)*19.42+datum.e2*109.3","as":"sx2"},{"calculate":"163+(datum.p2+3.1416)*6.37-datum.e2*22.86-(datum.z2-1)*1975","as":"sy2"}],
"mark":{"type":"rule","color":"#333","strokeWidth":1},
"encoding":{"x":{"field":"sx","type":"quantitative"},"y":{"field":"sy","type":"quantitative"},"x2":{"field":"sx2"},"y2":{"field":"sy2"}}},
{"data":{"values":[{"z":1},{"z":1.01},{"z":1.02},{"z":1.03},{"z":1.04}]},"transform":[{"calculate":"172-(datum.z-1)*2000","as":"sy"}],"mark":{"type":"rule","color":"#222","strokeWidth":1},"encoding":{"x":{"datum":349,"type":"quantitative"},"x2":{"datum":352},"y":{"field":"sy","type":"quantitative"}}},
{"data":{"values":[{"t":"1","z":1},{"t":"1.01","z":1.01},{"t":"1.02","z":1.02},{"t":"1.03","z":1.03},{"t":"1.04","z":1.04}]},"transform":[{"calculate":"172-(datum.z-1)*2000","as":"sy"}],"mark":{"type":"text","font":"Liberation Sans","fontWeight":"bold","fontSize":14,"align":"left","baseline":"middle","color":"#111"},"encoding":{"x":{"datum":354,"type":"quantitative"},"y":{"field":"sy","type":"quantitative"},"text":{"field":"t"}}},
{"data":{"values":[{"t":"1","z":1},{"t":"1.01","z":1.01},{"t":"1.02","z":1.02},{"t":"1.03","z":1.03},{"t":"1.04","z":1.04}]},"transform":[{"calculate":"58","as":"sx"},{"calculate":"163-(datum.z-1)*1975","as":"sy"}],
"mark":{"type":"text","font":"Liberation Sans","fontWeight":"bold","fontSize":14,"align":"right","baseline":"middle","dx":-6,"color":"#111"},"encoding":{"x":{"field":"sx","type":"quantitative"},"y":{"field":"sy","type":"quantitative"},"text":{"field":"t"}}},
{"data":{"values":[{"t":"−2","p":-2},{"t":"0","p":0},{"t":"2","p":2}]},"transform":[{"calculate":"58+(datum.p+3.1416)*19.42","as":"sx"},{"calculate":"163+(datum.p+3.1416)*6.37","as":"sy"}],
"mark":{"type":"text","font":"Liberation Sans","fontWeight":"bold","fontSize":14,"align":"right","baseline":"middle","dx":-5,"dy":7,"color":"#111"},"encoding":{"x":{"field":"sx","type":"quantitative"},"y":{"field":"sy","type":"quantitative"},"text":{"field":"t"}}},
{"data":{"values":[{"t":"0","e":0},{"t":"0.5","e":0.5},{"t":"1","e":1}]},"transform":[{"calculate":"180+datum.e*109.3","as":"sx"},{"calculate":"203-datum.e*22.86","as":"sy"}],
"mark":{"type":"text","font":"Liberation Sans","fontWeight":"bold","fontSize":14,"align":"center","baseline":"middle","dx":4,"dy":9,"color":"#111"},"encoding":{"x":{"field":"sx","type":"quantitative"},"y":{"field":"sy","type":"quantitative"},"text":{"field":"t"}}},
{"data":{"values":[{"t":"7 TeV,"}]},"mark":{"type":"text","font":"Liberation Sans","fontWeight":"bold","fontSize":14,"align":"left","baseline":"alphabetic","color":"#111"},"encoding":{"x":{"datum":65,"type":"quantitative"},"y":{"datum":31,"type":"quantitative"},"text":{"field":"t"}}},
{"data":{"values":[{"t":"δη"}]},"mark":{"type":"text","font":"Liberation Serif","fontSize":14,"align":"left","baseline":"alphabetic","color":"#222"},"encoding":{"x":{"datum":113,"type":"quantitative"},"y":{"datum":31,"type":"quantitative"},"text":{"field":"t"}}},
{"data":{"values":[{"t":"=0.2,"}]},"mark":{"type":"text","font":"Liberation Sans","fontWeight":"bold","fontSize":14,"align":"left","baseline":"alphabetic","color":"#111"},"encoding":{"x":{"datum":128,"type":"quantitative"},"y":{"datum":31,"type":"quantitative"},"text":{"field":"t"}}},
{"data":{"values":[{"t":"δφ"}]},"mark":{"type":"text","font":"Liberation Serif","fontSize":14,"align":"left","baseline":"alphabetic","color":"#222"},"encoding":{"x":{"datum":169,"type":"quantitative"},"y":{"datum":31,"type":"quantitative"},"text":{"field":"t"}}},
{"data":{"values":[{"t":"=0.25"}]},"mark":{"type":"text","font":"Liberation Sans","fontWeight":"bold","fontSize":14,"align":"left","baseline":"alphabetic","color":"#111"},"encoding":{"x":{"datum":185,"type":"quantitative"},"y":{"datum":31,"type":"quantitative"},"text":{"field":"t"}}},
{"data":{"values":[{"t":"π"}]},"mark":{"type":"text","font":"Liberation Serif","fontSize":14,"align":"left","baseline":"alphabetic","color":"#222"},"encoding":{"x":{"datum":222,"type":"quantitative"},"y":{"datum":31,"type":"quantitative"},"text":{"field":"t"}}},
{"data":{"values":[{"t":"Δϕ"}]},"mark":{"type":"text","font":"Liberation Serif","fontStyle":"italic","fontSize":14,"align":"center","baseline":"middle","color":"#333"},"encoding":{"x":{"datum":151,"type":"quantitative"},"y":{"datum":225,"type":"quantitative"},"text":{"field":"t"}}},
{"data":{"values":[{"t":"Δη"}]},"mark":{"type":"text","font":"Liberation Serif","fontSize":14,"align":"center","baseline":"middle","color":"#333"},"encoding":{"x":{"datum":338,"type":"quantitative"},"y":{"datum":198,"type":"quantitative"},"text":{"field":"t"}}},
{"data":{"values":[{"t":"Σ"}]},"mark":{"type":"text","font":"Liberation Serif","fontSize":14,"angle":270,"align":"left","baseline":"alphabetic","color":"#222"},"encoding":{"x":{"datum":18,"type":"quantitative"},"y":{"datum":135,"type":"quantitative"},"text":{"field":"t"}}},
{"data":{"values":[{"t":"(n"}]},"mark":{"type":"text","font":"Liberation Sans","fontWeight":"bold","fontSize":14,"angle":270,"align":"left","baseline":"alphabetic","color":"#111"},"encoding":{"x":{"datum":18,"type":"quantitative"},"y":{"datum":122,"type":"quantitative"},"text":{"field":"t"}}},
{"data":{"values":[{"t":"F"}]},"mark":{"type":"text","font":"Liberation Sans","fontWeight":"bold","fontSize":9,"angle":270,"align":"left","baseline":"alphabetic","color":"#111"},"encoding":{"x":{"datum":21,"type":"quantitative"},"y":{"datum":108,"type":"quantitative"},"text":{"field":"t"}}},
{"data":{"values":[{"t":","}]},"mark":{"type":"text","font":"Liberation Sans","fontWeight":"bold","fontSize":14,"angle":270,"align":"left","baseline":"alphabetic","color":"#111"},"encoding":{"x":{"datum":18,"type":"quantitative"},"y":{"datum":103,"type":"quantitative"},"text":{"field":"t"}}},
{"data":{"values":[{"t":"n"}]},"mark":{"type":"text","font":"Liberation Sans","fontWeight":"bold","fontSize":14,"angle":270,"align":"left","baseline":"alphabetic","color":"#111"},"encoding":{"x":{"datum":18,"type":"quantitative"},"y":{"datum":94,"type":"quantitative"},"text":{"field":"t"}}},
{"data":{"values":[{"t":"B"}]},"mark":{"type":"text","font":"Liberation Sans","fontWeight":"bold","fontSize":9,"angle":270,"align":"left","baseline":"alphabetic","color":"#111"},"encoding":{"x":{"datum":21,"type":"quantitative"},"y":{"datum":85,"type":"quantitative"},"text":{"field":"t"}}},
{"data":{"values":[{"t":")"}]},"mark":{"type":"text","font":"Liberation Sans","fontWeight":"bold","fontSize":14,"angle":270,"align":"left","baseline":"alphabetic","color":"#111"},"encoding":{"x":{"datum":18,"type":"quantitative"},"y":{"datum":76,"type":"quantitative"},"text":{"field":"t"}}}
]}
